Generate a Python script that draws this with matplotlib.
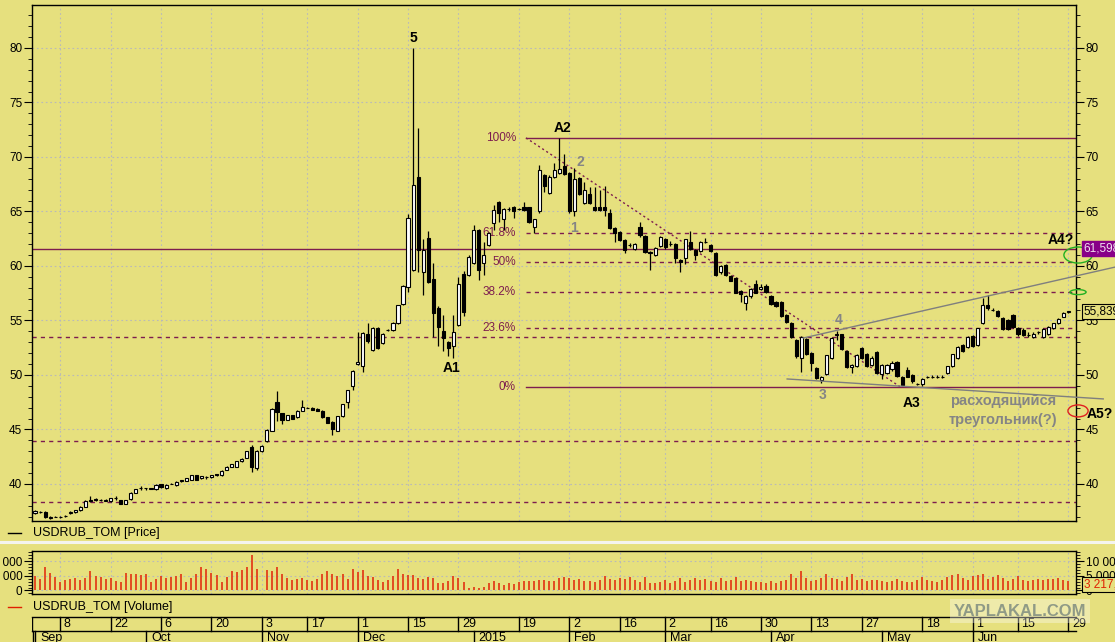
import numpy as np
import matplotlib
matplotlib.use('Agg')
import matplotlib.pyplot as plt
from matplotlib.patches import Ellipse
from matplotlib.ticker import MultipleLocator, FixedLocator
import matplotlib.transforms as mtransforms

plt.rcParams['font.family'] = ['Liberation Sans', 'DejaVu Sans']

# ---------------- data ----------------
opens = [37.3, 37.45, 37.4, 36.85, 37.0, 37.0, 37.05, 37.3, 37.4, 37.6,
         37.9, 38.5, 38.65, 38.5, 38.45, 38.4, 38.7, 38.5, 38.2, 38.6,
         39.2, 39.6, 39.6, 39.55, 39.5, 39.95, 39.6, 40.0, 39.9, 40.25,
         40.3, 40.4, 40.8, 40.5, 40.6, 40.6, 40.9, 40.8, 41.3, 41.6,
         41.6, 42.1, 42.4, 43.4, 41.5, 43.0, 43.9, 44.9, 47.55, 46.5,
         45.9, 46.3, 46.1, 46.7, 47.0, 47.0, 46.9, 46.7, 46.1, 45.7,
         44.9, 46.2, 47.5, 49.0, 51.0, 50.8, 53.8, 52.3, 54.3, 52.9,
         54.1, 54.1, 54.8, 56.5, 58.1, 59.6, 68.2, 59.4, 62.6, 58.8,
         56.1, 54.0, 53.05, 52.7, 54.6, 59.3, 59.2, 60.3, 63.3, 60.3,
         61.9, 63.9, 65.9, 64.3, 65.2, 65.4, 65.2, 65.4, 65.4, 63.6,
         65.0, 68.3, 66.7, 68.2, 68.5, 69.2, 68.5, 65.0, 68.1, 65.8,
         66.6, 65.4, 65.4, 65.4, 64.9, 63.5, 63.15, 62.4, 61.9, 61.6,
         63.6, 62.75, 61.3, 61.0, 61.8, 62.5, 62.0, 62.0, 60.5, 60.7,
         62.2, 61.5, 61.4, 62.2, 61.9, 61.2, 59.4, 60.1, 59.1, 58.9,
         57.7, 56.6, 57.2, 58.35, 57.9, 58.2, 57.25, 56.7, 56.7, 55.5,
         54.8, 53.2, 51.6, 53.3, 52.0, 50.6, 49.55, 50.1, 51.6, 53.7,
         53.75, 52.2, 50.7, 50.8, 52.45, 51.9, 50.9, 52.1, 50.1, 50.2,
         50.5, 51.2, 49.85, 50.45, 50.0, 49.2, 49.15, 49.8, 49.85, 49.85,
         49.85, 50.15, 50.8, 51.6, 52.75, 52.6, 53.6, 52.75, 54.75, 56.4,
         56.0, 55.9, 55.2, 55.0, 55.5, 54.3, 54.15, 53.7, 53.5, 53.9,
         53.5, 53.8, 54.3, 54.75, 55.35, 55.8]
highs = [37.6, 37.5, 37.5, 37.05, 37.1, 37.05, 37.15, 37.5, 37.65, 37.95,
         38.5, 38.9, 38.7, 38.6, 38.6, 38.75, 38.85, 38.55, 38.5, 39.25,
         39.55, 39.8, 39.6, 39.65, 39.95, 40.0, 39.95, 40.05, 40.25, 40.4,
         40.55, 40.85, 40.85, 40.75, 40.75, 40.85, 40.95, 41.25, 41.65, 41.85,
         42.15, 42.35, 43.05, 43.6, 43.1, 43.55, 45.0, 46.95, 48.55, 46.55,
         46.35, 46.35, 46.75, 47.7, 47.05, 47.05, 46.95, 46.75, 46.15, 45.8,
         46.25, 47.35, 48.65, 50.45, 53.9, 53.9, 54.8, 54.4, 54.4, 53.85,
         54.2, 54.85, 56.45, 58.25, 64.8, 80.0, 72.7, 62.5, 63.2, 60.3,
         56.3, 55.5, 53.1, 55.5, 59.0, 59.5, 61.0, 63.8, 63.4, 62.2,
         63.1, 65.6, 66.0, 65.3, 65.4, 65.5, 65.3, 65.9, 65.45, 64.35,
         69.3, 68.4, 68.3, 69.4, 71.7, 70.3, 68.6, 69.0, 68.2, 67.7,
         67.2, 67.2, 67.0, 67.3, 65.2, 63.6, 63.2, 62.5, 62.1, 62.1,
         64.0, 62.8, 61.4, 61.7, 62.75, 62.6, 62.3, 62.1, 60.6, 62.5,
         63.2, 61.6, 62.25, 62.6, 62.0, 61.3, 60.1, 60.2, 59.2, 59.0,
         57.8, 57.3, 57.95, 58.7, 58.3, 58.3, 57.3, 56.8, 56.8, 55.6,
         54.9, 53.3, 53.6, 53.4, 52.1, 50.7, 49.9, 51.85, 53.5, 54.0,
         53.8, 52.3, 51.0, 51.9, 52.6, 52.0, 51.7, 52.2, 51.0, 51.0,
         51.3, 51.3, 49.9, 50.7, 50.1, 49.3, 49.7, 49.9, 49.95, 49.95,
         49.95, 50.85, 51.95, 52.65, 52.8, 53.55, 53.7, 54.35, 57.1, 57.3,
         56.1, 56.0, 55.3, 55.1, 55.6, 54.4, 54.3, 53.9, 53.9, 54.0,
         54.3, 54.5, 54.8, 55.2, 55.75, 55.9]
lows = [37.2, 37.35, 36.9, 36.8, 36.95, 36.9, 37.0, 37.25, 37.35, 37.55,
        37.85, 38.3, 38.45, 38.45, 38.4, 38.35, 38.55, 38.15, 38.15, 38.55,
        39.15, 39.4, 39.45, 39.5, 39.45, 39.65, 39.55, 39.95, 39.85, 40.2,
        40.25, 40.35, 40.35, 40.45, 40.45, 40.55, 40.75, 40.75, 41.25, 41.55,
        41.55, 42.05, 42.35, 41.1, 41.3, 42.95, 43.85, 44.85, 45.8, 45.5,
        45.85, 45.95, 46.05, 46.65, 46.95, 46.75, 46.65, 46.05, 45.55, 44.5,
        44.85, 46.15, 47.0, 48.6, 50.9, 50.3, 52.9, 52.2, 52.4, 52.8,
        54.0, 54.05, 54.7, 56.4, 57.6, 59.5, 59.4, 57.3, 58.4, 53.5,
        52.7, 52.2, 51.7, 51.6, 54.5, 55.4, 59.1, 60.2, 58.7, 59.2,
        61.8, 63.3, 64.0, 63.3, 65.0, 64.4, 65.1, 65.05, 63.95, 63.0,
        64.9, 66.8, 66.6, 68.1, 68.4, 68.3, 64.9, 64.6, 66.5, 65.7,
        65.7, 65.0, 65.0, 64.6, 63.4, 62.2, 62.3, 61.2, 61.7, 61.5,
        62.7, 61.2, 59.6, 60.9, 61.7, 61.6, 61.8, 60.3, 59.4, 60.2,
        61.5, 60.5, 61.3, 62.1, 61.3, 59.1, 59.3, 59.1, 58.6, 57.5,
        56.7, 56.0, 57.1, 57.5, 57.8, 57.5, 56.4, 56.2, 55.3, 54.8,
        53.4, 51.6, 50.3, 51.8, 50.4, 49.6, 49.3, 50.0, 51.5, 53.2,
        52.3, 50.6, 50.2, 50.7, 51.5, 50.7, 50.8, 50.1, 49.6, 50.1,
        50.4, 49.8, 49.0, 49.8, 49.3, 49.1, 49.0, 49.7, 49.75, 49.75,
        49.75, 50.1, 50.7, 51.5, 52.1, 52.5, 52.6, 52.7, 54.7, 56.0,
        55.9, 55.3, 54.1, 54.1, 54.3, 53.6, 53.6, 53.5, 53.4, 53.8,
        53.4, 53.7, 54.2, 54.7, 55.3, 55.7]
closes = [37.5, 37.4, 36.95, 37.0, 37.0, 37.0, 37.1, 37.45, 37.6, 37.9,
          38.4, 38.4, 38.5, 38.5, 38.55, 38.7, 38.7, 38.2, 38.5, 39.2,
          39.5, 39.6, 39.6, 39.6, 39.9, 39.7, 39.9, 40.0, 40.2, 40.35,
          40.5, 40.8, 40.4, 40.7, 40.6, 40.8, 40.8, 41.2, 41.6, 41.8,
          42.1, 42.3, 43.0, 41.6, 43.05, 43.5, 44.95, 46.9, 46.6, 45.9,
          46.3, 46.0, 46.7, 47.1, 47.0, 46.8, 46.7, 46.1, 45.6, 45.0,
          46.2, 47.3, 48.6, 50.4, 51.2, 53.85, 53.1, 54.3, 52.5, 53.8,
          54.1, 54.8, 56.4, 58.2, 64.4, 67.4, 61.5, 61.5, 58.5, 55.7,
          54.4, 53.4, 52.45, 53.9, 58.3, 55.8, 60.85, 63.3, 59.6, 61.0,
          63.0, 65.1, 64.9, 65.2, 65.2, 65.0, 65.2, 65.1, 64.0, 64.3,
          68.8, 67.3, 68.2, 68.8, 68.9, 68.4, 65.0, 68.0, 66.6, 67.0,
          65.8, 65.1, 65.1, 65.1, 63.5, 63.0, 62.4, 61.5, 61.9, 62.0,
          62.8, 61.3, 61.15, 61.65, 62.7, 61.7, 62.0, 60.7, 60.4, 62.5,
          61.55, 61.0, 62.2, 62.2, 61.4, 59.2, 60.0, 59.2, 58.65, 57.55,
          57.4, 57.25, 57.9, 57.55, 58.1, 57.6, 56.5, 56.3, 55.4, 54.9,
          53.5, 51.7, 53.5, 51.9, 51.1, 49.7, 49.85, 51.8, 53.4, 53.75,
          52.4, 50.7, 50.9, 51.8, 51.55, 50.8, 51.6, 50.2, 50.9, 50.9,
          51.1, 49.9, 49.1, 49.85, 49.4, 49.2, 49.6, 49.8, 49.85, 49.85,
          49.85, 50.8, 51.9, 52.6, 52.2, 53.5, 52.7, 54.3, 56.4, 56.1,
          56.0, 55.4, 54.2, 54.2, 54.4, 53.75, 53.7, 53.7, 53.8, 53.9,
          54.2, 54.4, 54.75, 55.1, 55.7, 55.84]
volumes = [4900, 3900, 8100, 6100, 4700, 3000, 3600, 3900, 4200, 3600,
           4200, 6600, 4900, 4500, 3900, 4200, 3400, 3000, 6100, 5600,
           5600, 5300, 5600, 3000, 3900, 4900, 4200, 4500, 4900, 5600,
           3000, 4400, 5800, 8100, 7500, 6100, 5300, 3000, 4700, 6700,
           6400, 7000, 8100, 12000, 7500, 200, 7000, 6600, 8100, 5800,
           4200, 3600, 3800, 4200, 3600, 3400, 3800, 5800, 6600, 5600,
           4900, 5600, 4000, 7500, 6400, 7000, 4900, 4500, 3600, 3000,
           3600, 4900, 7200, 5600, 5300, 5300, 4200, 3800, 4500, 4200,
           2700, 2500, 3400, 4900, 4200, 3000, 800, 1100, 800, 1100,
           2500, 3400, 2700, 1900, 2500, 2200, 3000, 3400, 3400, 3400,
           3600, 3600, 3400, 3200, 4200, 4500, 4200, 3600, 3900, 3400,
           3400, 3000, 3600, 4900, 3900, 3600, 4200, 3900, 4500, 3600,
           3000, 4500, 2500, 2700, 3000, 3600, 2700, 3200, 4200, 3000,
           3600, 4200, 3600, 3900, 3400, 3000, 4200, 3400, 3600, 4500,
           3400, 3600, 3400, 3000, 3000, 2700, 3400, 2500, 3100, 3600,
           5600, 4200, 6600, 4200, 3400, 3600, 4200, 5800, 4200, 3900,
           3400, 4500, 5600, 3600, 3900, 3400, 3600, 3600, 3400, 3000,
           3400, 3900, 3400, 3000, 3000, 3500, 4500, 3600, 3400, 3000,
           3600, 4500, 5300, 5600, 4200, 3600, 4900, 5300, 5800, 3900,
           4500, 5300, 4200, 3400, 3800, 4900, 3600, 3400, 3600, 3900,
           3600, 3900, 4000, 4200, 3600, 3217.5]

day_tick_idx = [5, 15, 25, 35, 45, 54, 64, 74, 84, 96, 106, 116, 125, 134, 144,
                154, 164, 176, 186, 195, 205]
day_tick_labels = ['8', '22', '6', '20', '3', '17', '1', '15', '29', '19', '2', '16',
                   '2', '16', '30', '13', '27', '18', '1', '15', '29']
month_idx = [0, 22, 45, 64, 87, 106, 125, 146, 168, 186]
month_labels = ['Sep', 'Oct', 'Nov', 'Dec', '2015', 'Feb', 'Mar', 'Apr', 'May', 'Jun']

fib_high = 71.75   # A2
fib_low = 48.92    # A3
fib_ratios = [1.0, 0.618, 0.5, 0.382, 0.236, 0.0]
fib_labels = ['100%', '61.8%', '50%', '38.2%', '23.6%', '0%']
full_dashed_levels = [53.46, 43.97, 38.3]
full_solid_level = 61.56
last_price_label = '55,839'
solid_level_label = '61,598'
last_volume_label = '3 217,5'

# ---------------- style ----------------
bg = '#e6e07e'
maroon = '#7d1d4f'
gray_txt = '#858585'
vol_color = '#e2401a'
W, H = 1115, 642


def rect(x0, y0, x1, y1):
    return [x0 / W, 1 - y1 / H, (x1 - x0) / W, (y1 - y0) / H]


fig = plt.figure(figsize=(W / 100, H / 100), dpi=100)
fig.patch.set_facecolor(bg)

ax = fig.add_axes(rect(32, 5, 1076, 521))
axv = fig.add_axes(rect(32, 551, 1076, 594))
axd = fig.add_axes(rect(32, 617, 1076, 642))

XL = (-0.6, 206.5)
idx = np.arange(len(closes))

# ---------------- price panel ----------------
ax.set_facecolor(bg)
ax.set_xlim(*XL)
ax.set_ylim(36.6, 83.94)
ax.set_xticks(day_tick_idx)
ax.tick_params(axis='x', length=0, labelbottom=False)
ax.set_yticks(list(range(40, 85, 5)))
ax.yaxis.set_minor_locator(MultipleLocator(1))
ax.tick_params(axis='y', which='both', left=True, right=True, labelleft=True,
               labelright=True, direction='out', labelsize=8.5, colors='black')
ax.tick_params(axis='y', which='major', length=6, pad=1)
ax.tick_params(axis='y', which='minor', length=3)
ax.grid(True, which='major', color='#b9b9b9', lw=0.8, linestyle=(0, (1.5, 2.5)))
for s in ax.spines.values():
    s.set_color('black')
    s.set_linewidth(1)

# horizontal levels
ax.axhline(full_solid_level, color=maroon, lw=1, zorder=2)
for lv in full_dashed_levels:
    ax.axhline(lv, color=maroon, lw=1, linestyle=(0, (3, 3)), zorder=2)

fib_x0 = 97.4
for r, lab in zip(fib_ratios, fib_labels):
    lv = fib_low + r * (fib_high - fib_low)
    ls = '-' if r in (0.0, 1.0) else (0, (3, 3))
    ax.plot([fib_x0, XL[1]], [lv, lv], color=maroon, lw=1, linestyle=ls, zorder=2)
    ax.text(fib_x0 - 2.0, lv, lab, color=maroon, fontsize=8.5, ha='right', va='center')
# fib diagonal
ax.plot([fib_x0, 171.6], [fib_high, fib_low], color=maroon, lw=1,
        linestyle=(0, (1.5, 2)), zorder=2)

# triangle lines
ax.plot([152.4, 214.3], [53.39, 59.9], color='#7f7f7f', lw=1, zorder=5, clip_on=False)
ax.plot([149.2, 211.9], [49.63, 47.8], color='#7f7f7f', lw=1, zorder=5, clip_on=False)

# candles
ax.vlines(idx, lows, highs, color='black', lw=0.9, zorder=3)
bottoms = [min(o, c) for o, c in zip(opens, closes)]
heights = [abs(c - o) for o, c in zip(opens, closes)]
cols = ['white' if c >= o else 'black' for o, c in zip(opens, closes)]
ax.bar(idx, heights, bottom=bottoms, width=0.62, color=cols, edgecolor='black',
       linewidth=0.8, zorder=4)

# wave labels
bold = dict(fontsize=10, fontweight='bold', ha='center', va='center')
ax.text(75.0, 80.9, '5', color='black', **bold)
ax.text(104.6, 72.66, 'A2', color='black', **bold)
ax.text(108.1, 69.5, '2', color=gray_txt, **bold)
ax.text(106.9, 63.5, '1', color=gray_txt, **bold)
ax.text(82.7, 50.6, 'A1', color='black', **bold)
ax.text(159.5, 55.05, '4', color=gray_txt, **bold)
ax.text(156.2, 48.2, '3', color=gray_txt, **bold)
ax.text(173.8, 47.4, 'A3', color='black', **bold)
ax.text(203.4, 62.4, 'A4?', color='black', **bold)
ax.text(211.3, 46.4, 'A5?', color='black', clip_on=False, **bold)
ax.text(192.1, 47.6, 'расходящийся', color=gray_txt, fontsize=10.5,
        fontweight='bold', ha='center', va='center')
ax.text(192.1, 45.9, 'треугольник(?)', color=gray_txt, fontsize=10.5,
        fontweight='bold', ha='center', va='center')

# ellipses
ax.add_patch(Ellipse((206.9, 61.0), 5.6, 1.47, fill=False, edgecolor='#22b022',
                     lw=1, clip_on=False, zorder=6))
ax.add_patch(Ellipse((206.9, 57.6), 3.2, 0.46, fill=False, edgecolor='#22b022',
                     lw=1, clip_on=False, zorder=6))
ax.add_patch(Ellipse((206.9, 46.7), 4.0, 1.1, fill=False, edgecolor='#e02020',
                     lw=1, clip_on=False, zorder=6))

# value boxes on right axis
tr = mtransforms.blended_transform_factory(ax.transAxes, ax.transData)
ax.text(1.0075, full_solid_level + 0.05, solid_level_label, transform=tr,
        fontsize=8.5, color='#f0e0f0', ha='left', va='center', clip_on=False,
        bbox=dict(boxstyle='square,pad=0.12', fc='#880088', ec='#880088'), zorder=7)
ax.text(1.0075, closes[-1], last_price_label, transform=tr, fontsize=8.5,
        color='black', ha='left', va='center', clip_on=False,
        bbox=dict(boxstyle='square,pad=0.12', fc=bg, ec='black', lw=0.8), zorder=7)

# ---------------- volume panel ----------------
axv.set_facecolor(bg)
axv.set_xlim(*XL)
axv.set_ylim(-1200, 13500)
axv.set_xticks(day_tick_idx)
axv.tick_params(axis='x', length=0, labelbottom=False)
axv.yaxis.set_major_locator(FixedLocator([0, 5000, 10000]))
axv.set_yticklabels(['0', '5 000', '10 000'])
axv.yaxis.set_minor_locator(MultipleLocator(1000))
axv.tick_params(axis='y', which='both', left=True, right=True, labelleft=True,
                labelright=True, direction='out', labelsize=8.5)
axv.tick_params(axis='y', which='major', length=6, pad=1)
axv.tick_params(axis='y', which='minor', length=3)
axv.grid(True, which='major', color='#b9b9b9', lw=0.8, linestyle=(0, (1.5, 2.5)))
for s in axv.spines.values():
    s.set_color('black')
    s.set_linewidth(1)
axv.vlines(idx, 0, volumes, color=vol_color, lw=1.3, zorder=3)
trv = mtransforms.blended_transform_factory(axv.transAxes, axv.transData)
axv.text(1.0075, 2100, last_volume_label, transform=trv, fontsize=8.5,
         color='#e02000', ha='left', va='center', clip_on=False,
         bbox=dict(boxstyle='square,pad=0.12', fc=bg, ec='black', lw=0.8), zorder=7)

# ---------------- date axis ----------------
axd.set_facecolor(bg)
axd.set_xlim(*XL)
axd.set_ylim(0, 25)
axd.axis('off')
axd.plot(XL, [25, 25], color='black', lw=1, clip_on=False)
axd.plot(XL, [11, 11], color='black', lw=1, clip_on=False)
axd.plot([XL[0], XL[0]], [11, 25], color='black', lw=1)
axd.plot([XL[0] + 0.25, XL[0] + 0.25], [0, 11], color='black', lw=1)
axd.plot([XL[0] + 0.65, XL[0] + 0.65], [0, 11], color='black', lw=1)
for t, lab in zip(day_tick_idx, day_tick_labels):
    axd.plot([t, t], [11, 25], color='black', lw=1, clip_on=False)
    axd.text(t + 0.7, 17.8, lab, fontsize=9, ha='left', va='center', clip_on=False)
for m, lab in zip(month_idx, month_labels):
    if m > 0:
        axd.plot([m, m], [0, 11], color='black', lw=1)
    axd.text(m + 1.0, 10.2, lab, fontsize=9, ha='left', va='top', clip_on=False)

# ---------------- legend lines / separators ----------------
fig.add_artist(plt.Line2D([0, 1], [1 - 542 / H, 1 - 542 / H], color='#f4f4ee', lw=2.2,
                          transform=fig.transFigure))
fig.add_artist(plt.Line2D([8 / W, 21 / W], [1 - 533 / H, 1 - 533 / H], color='black',
                          lw=1, transform=fig.transFigure))
fig.text(33 / W, 1 - 533 / H, 'USDRUB_TOM [Price]', fontsize=9, ha='left', va='center')
fig.add_artist(plt.Line2D([8 / W, 21 / W], [1 - 607 / H, 1 - 607 / H], color='#e02000',
                          lw=1, transform=fig.transFigure))
fig.text(33 / W, 1 - 607 / H, 'USDRUB_TOM [Volume]', fontsize=9, ha='left', va='center')

# watermark
fig.text(1020 / W, 1 - 611 / H, 'YAPLAKAL.COM', fontsize=12, fontweight='bold',
         color='#8f9a86', ha='center', va='center',
         bbox=dict(boxstyle='square,pad=0.25', fc='white', ec='none', alpha=0.35))

fig.savefig('out.png', dpi=100, facecolor=bg)
